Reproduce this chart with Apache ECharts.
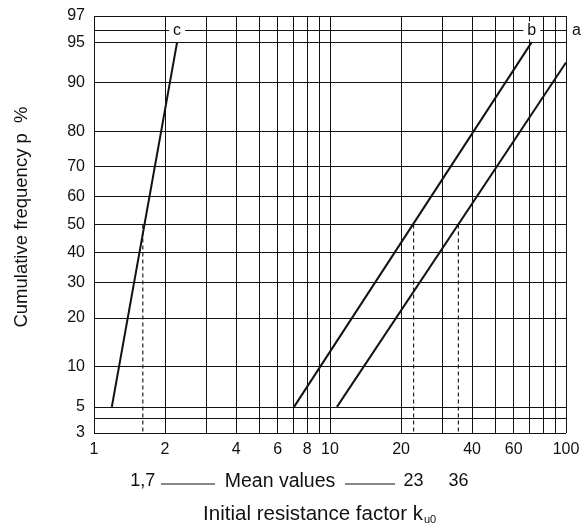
<!DOCTYPE html>
<html>
<head>
<meta charset="utf-8">
<script src="https://cdn.jsdelivr.net/npm/echarts@6/dist/echarts.min.js"></script>
<style>html,body{margin:0;padding:0;background:#fff}#c{width:584px;height:528px}</style>
</head>
<body>
<div id="c"></div>
<script>
// ---- data ----
const pGrid = [3, 4, 5, 10, 20, 30, 40, 50, 60, 70, 80, 90, 95, 96, 97];
const pLabels = [3, 5, 10, 20, 30, 40, 50, 60, 70, 80, 90, 95, 97];
const xGrid = [1, 2, 3, 4, 5, 6, 7, 8, 9, 10, 20, 30, 40, 50, 60, 70, 80, 90, 100];
const xLabels = [1, 2, 4, 6, 8, 10, 20, 40, 60, 100];
const lineA = [[10.7, 5], [100, 92.8]];
const lineB = [[7.04, 5], [71.6, 95]];
const lineC = [[1.19, 5], [2.25, 95]];
const curveNames = ['c', 'b'];
const curveLabelX = [2.25, 71.6];
const curveLabelP = 96;
const meanX = [1.61, 22.6, 35];
const meanText = ['1,7', '23', '36'];
const meanTopP = 50;

// inverse normal CDF (probability paper scale)
function probit(p) {
  const a = [-3.969683028665376e+01, 2.209460984245205e+02, -2.759285104469687e+02, 1.383577518672690e+02, -3.066479806614716e+01, 2.506628277459239e+00];
  const b = [-5.447609879822406e+01, 1.615858368580409e+02, -1.556989798598866e+02, 6.680131188771972e+01, -1.328068155288572e+01];
  const c = [-7.784894002430293e-03, -3.223964580411365e-01, -2.400758277161838e+00, -2.549732539343734e+00, 4.374664141464968e+00, 2.938163982698783e+00];
  const d = [7.784695709041462e-03, 3.224671290700398e-01, 2.445134137142996e+00, 3.754408661907416e+00];
  const pl = 0.02425, ph = 1 - pl;
  let q, r;
  if (p < pl) { q = Math.sqrt(-2 * Math.log(p)); return (((((c[0]*q+c[1])*q+c[2])*q+c[3])*q+c[4])*q+c[5]) / ((((d[0]*q+d[1])*q+d[2])*q+d[3])*q+1); }
  if (p <= ph) { q = p - 0.5; r = q*q; return (((((a[0]*r+a[1])*r+a[2])*r+a[3])*r+a[4])*r+a[5])*q / (((((b[0]*r+b[1])*r+b[2])*r+b[3])*r+b[4])*r+1); }
  q = Math.sqrt(-2 * Math.log(1 - p)); return -(((((c[0]*q+c[1])*q+c[2])*q+c[3])*q+c[4])*q+c[5]) / ((((d[0]*q+d[1])*q+d[2])*q+d[3])*q+1);
}
const Z = p => probit(p / 100);
const FONT = '"Liberation Sans", Arial, sans-serif';
const INK = '#111';
const EPS = 1e-4;
const yMin = Z(pGrid[0]) - EPS, yMax = Z(pGrid[pGrid.length - 1]) + EPS;

const tickLabel = (show, text) => ({ show: show, formatter: text, position: 'start', distance: 9, color: INK, fontSize: 16, fontFamily: FONT });
const gridLines = [];
xGrid.forEach(v => gridLines.push({ xAxis: v, label: tickLabel(xLabels.includes(v), String(v)) }));
pGrid.forEach(p => {
  const item = { yAxis: Z(p), label: tickLabel(pLabels.includes(p), String(p)) };
  if (p === curveLabelP) item.label = { show: true, formatter: 'a', position: 'end', distance: 6, color: INK, fontSize: 16, fontFamily: FONT };
  gridLines.push(item);
});

const toPts = arr => arr.map(([x, p]) => [x, Z(p)]);
const curveStyle = { color: INK, width: 2 };

const series = [
  {
    type: 'line', data: [], silent: true, z: 1,
    markLine: { silent: true, symbol: ['none', 'none'], animation: false, precision: 6,
      lineStyle: { type: 'solid', color: INK, width: 1 }, data: gridLines }
  },
  ...meanX.map(x => ({
    type: 'line', data: toPts([[x, meanTopP], [x, pGrid[0]]]), symbol: 'none', z: 2, silent: true,
    lineStyle: { type: [4, 3], width: 1.2, color: '#222' }
  })),
  { type: 'line', data: toPts(lineA), symbol: 'none', lineStyle: curveStyle, z: 3, silent: true },
  { type: 'line', data: toPts(lineB), symbol: 'none', lineStyle: curveStyle, z: 3, silent: true },
  { type: 'line', data: toPts(lineC), symbol: 'none', lineStyle: curveStyle, z: 3, silent: true },
  {
    type: 'scatter', z: 5, symbolSize: 0, silent: true, itemStyle: { color: INK, opacity: 1 },
    data: curveNames.map((n, i) => ({ value: [curveLabelX[i], Z(curveLabelP)], name: n })),
    label: { show: true, position: 'inside', formatter: '{b}', backgroundColor: '#fff', padding: [1, 4, 1, 4],
      color: INK, textBorderWidth: 0, fontSize: 16, fontFamily: FONT }
  },
  {
    type: 'scatter', z: 5, symbolSize: 0, silent: true, clip: false, itemStyle: { color: INK, opacity: 1 },
    data: meanX.map((x, i) => ({ value: [x, Z(pGrid[0])], name: meanText[i] })),
    label: { show: true, position: 'bottom', distance: 39, formatter: '{b}', color: INK, fontSize: 18, fontFamily: FONT }
  }
];

const chart = echarts.init(document.getElementById('c'), null, { renderer: 'canvas' });
chart.setOption({
  animation: false,
  backgroundColor: '#fff',
  grid: { left: 94, right: 18, top: 16, bottom: 95, containLabel: false },
  xAxis: { type: 'log', logBase: 10, min: 1, max: 100,
    axisLine: { show: false }, axisTick: { show: false }, axisLabel: { show: false }, splitLine: { show: false }, minorSplitLine: { show: false } },
  yAxis: { type: 'value', min: yMin, max: yMax, scale: true,
    axisLine: { show: false }, axisTick: { show: false }, axisLabel: { show: false }, splitLine: { show: false } },
  series: series,
  graphic: [
    { type: 'text', x: 22, y: 217, rotation: Math.PI / 2,
      style: { text: 'Cumulative frequency p  %', fontSize: 18.5, fontFamily: FONT, fill: INK, align: 'center', verticalAlign: 'middle' } },
    { type: 'text', x: 280, y: 482,
      style: { text: 'Mean values', fontSize: 19.5, fontFamily: FONT, fill: INK, align: 'center', verticalAlign: 'middle' } },
    { type: 'line', shape: { x1: 161, y1: 484, x2: 215, y2: 484 }, style: { stroke: INK, lineWidth: 1 } },
    { type: 'line', shape: { x1: 345, y1: 484, x2: 395, y2: 484 }, style: { stroke: INK, lineWidth: 1 } },
    { type: 'text', x: 423, y: 514,
      style: { text: 'Initial resistance factor k', fontSize: 20.5, fontFamily: FONT, fill: INK, align: 'right', verticalAlign: 'middle' } },
    { type: 'text', x: 424, y: 520,
      style: { text: 'u0', fontSize: 11, fontFamily: FONT, fill: INK, align: 'left', verticalAlign: 'middle' } }
  ]
});
</script>
</body>
</html>
